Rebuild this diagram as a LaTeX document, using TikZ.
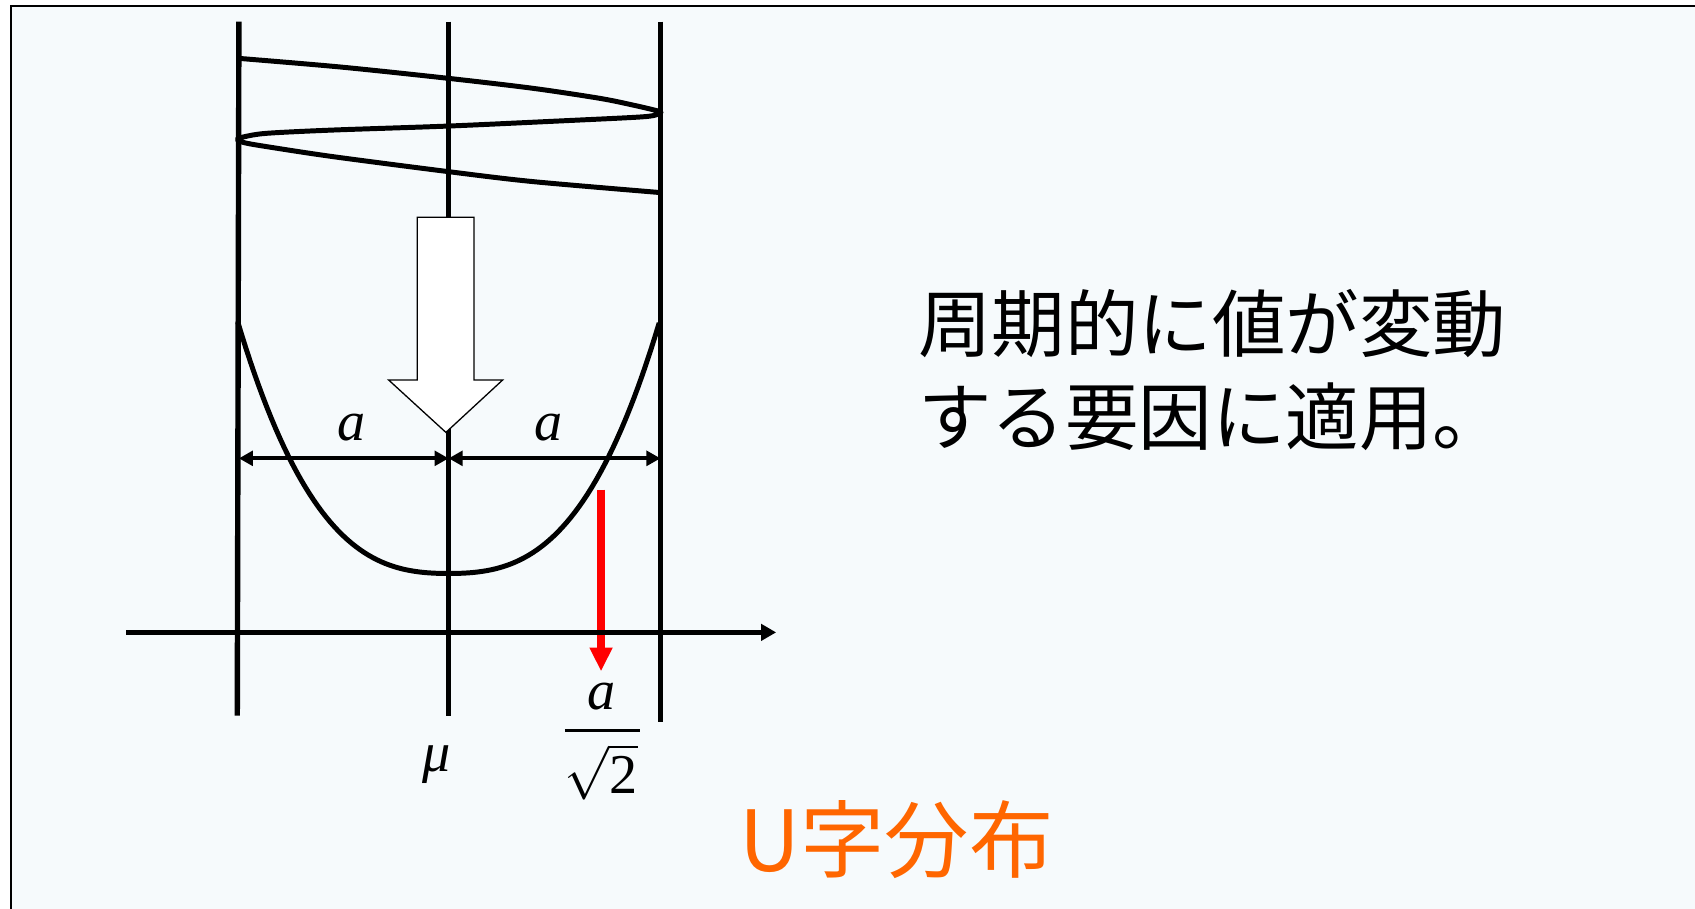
\documentclass[tikz,border=0pt]{standalone}
\usepackage{fontspec}
\setmainfont{Liberation Serif}
\newfontfamily\jpfont{Noto Sans CJK JP}
\usetikzlibrary{arrows.meta}
\definecolor{bgcol}{RGB}{246,250,252}
\definecolor{uorange}{RGB}{255,102,0}
\definecolor{redarrow}{RGB}{255,0,0}
\begin{document}
\begin{tikzpicture}[x=0.5pt,y=-0.5pt,
  mainline/.style={line width=2.5pt, black},
  waveline/.style={line width=2.3pt, black, line join=round},
  dimline/.style={line width=1.9pt, {Triangle[length=6.5pt,width=6.8pt]}-{Triangle[length=6.5pt,width=6.8pt]}},
  axisline/.style={line width=2.5pt, -{Triangle[length=7pt,width=7.5pt]}},
  redline/.style={line width=3.5pt, redarrow, -{Triangle[length=11pt,width=10pt]}},
  hollow/.style={fill=white, draw=black, line width=0.6pt},
  mathlbl/.style={font=\fontsize{26}{30}\selectfont\itshape, inner sep=0pt, anchor=base},
  jptext/.style={font=\jpfont\fontsize{34}{40}\selectfont, inner sep=0pt, anchor=base west},
  titletext/.style={font=\jpfont\fontsize{39}{44}\selectfont, text=uorange, inner sep=0pt, anchor=base west}
]
\useasboundingbox (0,0) rectangle (1568,840);
\fill[white] (0,0) rectangle (1568,840);
\fill[bgcol] (10,5.5) rectangle (1580,850);
\draw[line width=1pt] (10,850) -- (10,5.5) -- (1580,5.5);

% vertical lines
\coordinate (Lt) at (221,20); \coordinate (Lb) at (219.5,662);
\coordinate (Ct) at (415,20); \coordinate (Cb) at (415,662);
\coordinate (Rt) at (611,20); \coordinate (Rb) at (611,668);
\draw[mainline] (Lt) -- (Lb);
\draw[mainline] (Ct) -- (Cb);
\draw[mainline] (Rt) -- (Rb);

% oscillating wave
\draw[waveline] plot[smooth, tension=0.5] coordinates {
 (221,54) (315,62) (415,72.5) (493,81.7) (555,91) (586,97.3) (606,102) (611.5,104)
 (604,107) (586,108.6) (524,111.6) (415,116.6) (308,120.3) (247,123.3) (226,126.5) (219.5,129)
 (226,132) (247,135.7) (308,144.9) (415,158.8) (493,168) (611.5,178.2)};

% U-shaped density
\draw[waveline] plot[domain=-1:1, samples=101, variable=\t]
  ({415+195*\t},{530.5-232.5*(0.8*abs(\t)*\t*\t+0.2*\t*\t)});

% red arrow
\coordinate (r1) at (556,453);
\coordinate (r2) at (556,621);
\draw[redline] (r1) -- (r2);

% horizontal axis
\coordinate (ax0) at (117,585);
\coordinate (ax1) at (718,585);
\draw[axisline] (ax0) -- (ax1);

% dimension arrows
\coordinate (dL) at (221,424);
\coordinate (dC) at (415,424);
\coordinate (dR) at (611,424);
\draw[dimline] (dL) -- (dC);
\draw[dimline] (dC) -- (dR);

% hollow arrow
\draw[hollow] (386,201) -- (438.5,201) -- (438.5,351.5) -- (465,351.5) -- (412.5,400)
  -- (359.5,351.5) -- (386,351.5) -- cycle;

% labels
\node[mathlbl] (aL) at (325,407.6) {a};
\node[mathlbl] (aR) at (507,407.6) {a};
\node[mathlbl] (mu) at (404,714) {μ};
\node[mathlbl, text depth=0pt, text height=12pt] (fa) at (556.5,656) {a};
\coordinate (fbL) at (522.5,676);
\coordinate (fbR) at (592,676);
\draw[line width=1.2pt] (fbL) -- (fbR);
\node[inner sep=0pt, anchor=base, text height=20pt, text depth=2pt] (sq) at (556,734) {\fontsize{26}{30}\selectfont$\sqrt{\mbox{2}}$};

\node[jptext] (t1) at (849,325) {周期的に値が変動};
\node[jptext] (t2) at (849,411) {する要因に適用。};
\node[titletext] (title) at (684,806) {U字分布};
\end{tikzpicture}
\end{document}
